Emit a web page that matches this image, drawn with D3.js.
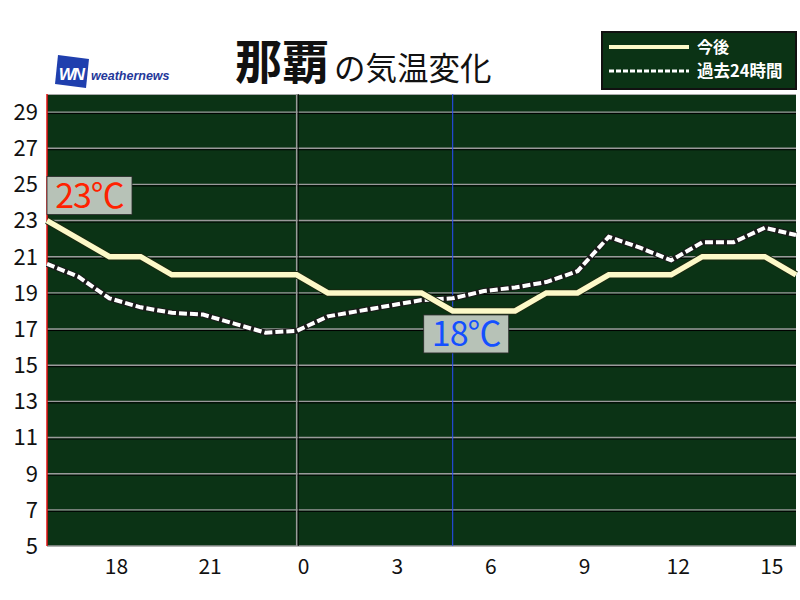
<!DOCTYPE html>
<html><head><meta charset="utf-8">
<script src="https://cdn.jsdelivr.net/npm/d3@7"></script>
<style>body{margin:0;background:#fff;}svg{display:block;}</style>
</head><body>
<svg id="c" width="800" height="600"></svg>
<script>
const hours = [16,17,18,19,20,21,22,23,0,1,2,3,4,5,6,7,8,9,10,11,12,13,14,15,16];
const forecast = [23,22,21,21,20,20,20,20,20,19,19,19,19,18,18,18,19,19,20,20,20,21,21,21,20];
const past24 = [20.6,19.9,18.7,18.2,17.9,17.8,17.3,16.8,16.9,17.7,18.0,18.3,18.6,18.7,19.1,19.3,19.6,20.2,22.1,21.5,20.8,21.8,21.8,22.6,22.2];
const yTicks = [5,7,9,11,13,15,17,19,21,23,25,27,29];
const xTickIdx = [2,5,8,11,14,17,20,23];
const maxLabel = "23℃", minLabel = "18℃";
const maxIdx = 0, minIdx = 13, midnightIdx = 8;

const svg = d3.select("#c");
const L = 47, R = 796, T = 94, B = 546;
const x = d3.scaleLinear().domain([0, 24]).range([L, R]);
const y = d3.scaleLinear().domain([5, 30]).range([B, T]);
const font = "'Noto Sans CJK JP', 'Noto Sans', sans-serif";

// plot background
svg.append("rect").attr("x", L).attr("y", T).attr("width", R - L).attr("height", B - T).attr("fill", "#0b3315");
svg.append("line").attr("x1", L).attr("x2", R).attr("y1", T + 0.5).attr("y2", T + 0.5).attr("stroke", "#aaa").attr("stroke-width", 1);

// gridlines
const grid = svg.append("g");
yTicks.filter(v => v > 5).forEach(v => {
  grid.append("line").attr("x1", L).attr("x2", R).attr("y1", y(v) + 1.5).attr("y2", y(v) + 1.5).attr("stroke", "#000").attr("stroke-width", 1);
  grid.append("line").attr("x1", L).attr("x2", R).attr("y1", y(v)).attr("y2", y(v)).attr("stroke", "#9a9a9a").attr("stroke-width", 1.4);
});
svg.append("line").attr("x1", L).attr("x2", R).attr("y1", B).attr("y2", B).attr("stroke", "#9a9a9a").attr("stroke-width", 1.5);
// vertical markers
svg.append("line").attr("x1", x(midnightIdx) + 1.5).attr("x2", x(midnightIdx) + 1.5).attr("y1", T).attr("y2", B).attr("stroke", "#000").attr("stroke-width", 1);
svg.append("line").attr("x1", x(midnightIdx)).attr("x2", x(midnightIdx)).attr("y1", T).attr("y2", B).attr("stroke", "#9a9a9a").attr("stroke-width", 1.5);
svg.append("line").attr("x1", x(minIdx)).attr("x2", x(minIdx)).attr("y1", T).attr("y2", B).attr("stroke", "#2a4dff").attr("stroke-width", 1);
svg.append("line").attr("x1", x(maxIdx)).attr("x2", x(maxIdx)).attr("y1", T).attr("y2", B).attr("stroke", "#e01010").attr("stroke-width", 1.5);

// lines
const line = d3.line().x((d, i) => x(i)).y(d => y(d));
svg.append("path").attr("d", line(past24)).attr("fill", "none").attr("stroke", "#1a1a1a").attr("stroke-width", 6).attr("stroke-linejoin", "round");
svg.append("path").attr("d", line(past24)).attr("fill", "none").attr("stroke", "#ffffff").attr("stroke-width", 4).attr("stroke-dasharray", "8,3");
svg.append("path").attr("d", line(forecast)).attr("fill", "none").attr("stroke", "#1a2a10").attr("stroke-width", 7.5);
svg.append("path").attr("d", line(forecast)).attr("fill", "none").attr("stroke", "#fdf9c8").attr("stroke-width", 5.5);

// y labels
svg.append("g").selectAll("text").data(yTicks).join("text")
  .attr("x", 38).attr("y", d => y(d)).attr("dy", "0.36em").attr("text-anchor", "end")
  .attr("font-family", font).attr("font-size", 22).attr("fill", "#111").text(d => d);
// x labels
svg.append("g").selectAll("text").data(xTickIdx).join("text")
  .attr("x", d => x(d) + 7).attr("y", 566).attr("dy", "0.36em").attr("text-anchor", "middle")
  .attr("font-family", font).attr("font-size", 21).attr("fill", "#111").text(d => hours[d]);

// max / min labels
function tag(cx, top, txt, col) {
  const g = svg.append("g");
  g.append("rect").attr("x", cx).attr("y", top).attr("width", 85).attr("height", 38).attr("fill", "#b7c2b7").attr("stroke", "#2a2a2a").attr("stroke-width", 0.8);
  g.append("text").attr("x", cx + 42.5).attr("y", top + 19).attr("dy", "0.36em").attr("text-anchor", "middle")
    .attr("font-family", font).attr("font-size", 34).attr("letter-spacing", -1).attr("fill", col).text(txt);
}
tag(x(maxIdx), y(forecast[maxIdx]) - 44, maxLabel, "#ff2200");
tag(x(minIdx) - 29, y(forecast[minIdx]) + 4, minLabel, "#1450ff");

// title
svg.append("text").attr("x", 235).attr("y", 79).attr("font-family", font).attr("font-weight", 700).attr("font-size", 47).attr("fill", "#111").text("那覇");
svg.append("text").attr("x", 334).attr("y", 80).attr("font-family", font).attr("font-size", 31.5).attr("fill", "#111").text("の気温変化");

// logo
const lg = svg.append("g");
lg.append("path").attr("d", "M58,55 L89,59 L86,88 L55,84 Z").attr("fill", "#1f3fae");
lg.append("text").attr("x", 71).attr("y", 80).attr("text-anchor", "middle").attr("font-family", "Arial, 'Liberation Sans', sans-serif").attr("font-weight", 700).attr("font-style", "italic").attr("font-size", 17).attr("fill", "#fff").attr("letter-spacing", -2).text("WN");
lg.append("text").attr("x", 91).attr("y", 80).attr("font-family", "Arial, 'Liberation Sans', sans-serif").attr("font-style", "italic").attr("font-weight", 700).attr("font-size", 12.5).attr("fill", "#24389a").text("weathernews");

// legend
const lgd = svg.append("g");
lgd.append("rect").attr("x", 602).attr("y", 32).attr("width", 194).attr("height", 57).attr("fill", "#0b3315").attr("stroke", "#111").attr("stroke-width", 2);
lgd.append("line").attr("x1", 609).attr("x2", 689).attr("y1", 47).attr("y2", 47).attr("stroke", "#fdf9c8").attr("stroke-width", 4);
lgd.append("line").attr("x1", 609).attr("x2", 689).attr("y1", 71).attr("y2", 71).attr("stroke", "#fff").attr("stroke-width", 3).attr("stroke-dasharray", "5,2");
lgd.append("text").attr("x", 697).attr("y", 47).attr("dy", "0.36em").attr("font-family", font).attr("font-weight", 700).attr("font-size", 16).attr("fill", "#fff").text("今後");
lgd.append("text").attr("x", 697).attr("y", 71).attr("dy", "0.36em").attr("font-family", font).attr("font-weight", 700).attr("font-size", 16.5).attr("fill", "#fff").text("過去24時間");
</script>
</body></html>
